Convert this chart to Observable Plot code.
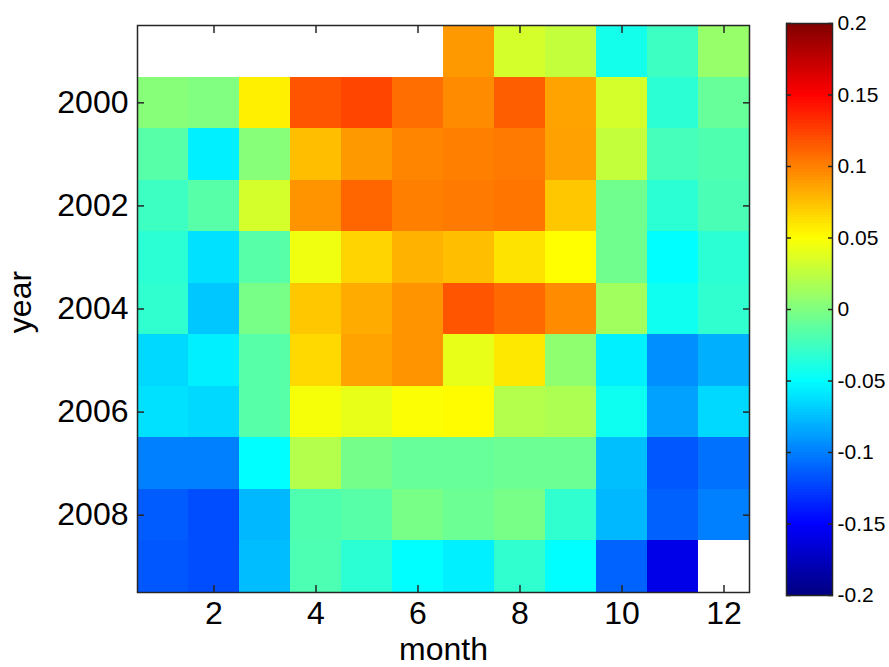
<!DOCTYPE html>
<html><head><meta charset="utf-8">
<script src="https://cdn.jsdelivr.net/npm/d3@7"></script>
<script src="https://cdn.jsdelivr.net/npm/@observablehq/plot@0.6"></script>
<style>
body{margin:0;background:#fff;}
#chart{position:relative;width:889px;height:667px;overflow:hidden;font-family:"Liberation Sans",Arial,sans-serif;}
#main{position:absolute;left:0;top:0;}
#cbar{position:absolute;left:760px;top:0;}
</style></head><body><div id="chart"><div id="main"></div><div id="cbar"></div></div>
<script>
const months = [1,2,3,4,5,6,7,8,9,10,11,12];
const years = [1999,2000,2001,2002,2003,2004,2005,2006,2007,2008,2009];
const v1999 = [null,null,null,null,null,null,0.09,0.033,0.027,-0.042,-0.026,0.009];
const v2000 = [0.003,0.0,0.056,0.117,0.123,0.107,0.095,0.113,0.086,0.033,-0.033,-0.01];
const v2001 = [-0.016,-0.056,0.003,0.075,0.09,0.098,0.1,0.102,0.087,0.027,-0.023,-0.019];
const v2002 = [-0.026,-0.016,0.033,0.092,0.11,0.1,0.102,0.104,0.072,-0.006,-0.033,-0.021];
const v2003 = [-0.033,-0.062,-0.016,0.044,0.067,0.08,0.075,0.061,0.05,-0.006,-0.05,-0.033];
const v2004 = [-0.031,-0.072,-0.003,0.072,0.083,0.092,0.117,0.109,0.095,0.013,-0.044,-0.031];
const v2005 = [-0.065,-0.056,-0.016,0.065,0.086,0.092,0.041,0.059,0.006,-0.056,-0.094,-0.081];
const v2006 = [-0.062,-0.065,-0.016,0.047,0.041,0.049,0.051,0.02,0.018,-0.045,-0.087,-0.065];
const v2007 = [-0.1,-0.1,-0.05,0.02,-0.004,-0.01,-0.01,-0.008,-0.008,-0.075,-0.116,-0.106];
const v2008 = [-0.114,-0.12,-0.078,-0.019,-0.016,-0.003,-0.008,-0.003,-0.031,-0.078,-0.112,-0.1];
const v2009 = [-0.116,-0.12,-0.076,-0.02,-0.033,-0.05,-0.056,-0.031,-0.05,-0.111,-0.159,null];
const monthTicks = [2,4,6,8,10,12];
const yearTicks = [2000,2002,2004,2006,2008];
const colorTicks = [-0.2,-0.15,-0.1,-0.05,0,0.05,0.1,0.15,0.2];
const jetDomain = [-0.2,-0.15,-0.05,0.05,0.15,0.2];
const jetColors = ["#000080","#0000ff","#00ffff","#ffff00","#ff0000","#800000"];

const rows = [v1999,v2000,v2001,v2002,v2003,v2004,v2005,v2006,v2007,v2008,v2009];
const data = [];
years.forEach((yr,i)=>rows[i].forEach((v,j)=>{ if(v!=null) data.push({year:yr, month:months[j], value:v}); }));

const colorScale = {type:"linear", domain:jetDomain, range:jetColors, interpolate:"rgb", clamp:true};
const font = '"Liberation Sans", Arial, sans-serif';
const frameColor = "#262626";

const main = Plot.plot({
  width: 760, height: 667,
  marginLeft: 137, marginRight: 11, marginTop: 25, marginBottom: 75,
  style: {fontFamily: font, fontSize: "32px", color: "#000", background: "transparent"},
  x: {domain: [0.5, 12.5], axis: null},
  y: {domain: [2009.5, 1998.5], axis: null},
  color: colorScale,
  marks: [
    Plot.rect(data, {x1: d=>d.month-0.5, x2: d=>d.month+0.5, y1: d=>d.year-0.5, y2: d=>d.year+0.5, fill: "value", shapeRendering: "crispEdges"}),
    Plot.frame({stroke: frameColor, strokeWidth: 1.5}),
    Plot.axisX(monthTicks, {anchor: "bottom", tickSize: 0, tickPadding: 9, fontSize: 32, tickFormat: d=>String(d), label: null}),
    Plot.axisX(monthTicks, {anchor: "bottom", tickSize: -7, tickFormat: ()=>"", label: null, stroke: frameColor, strokeWidth: 1.5}),
    Plot.axisX(monthTicks, {anchor: "top", tickSize: -7, tickFormat: ()=>"", label: null, stroke: frameColor, strokeWidth: 1.5}),
    Plot.axisY(yearTicks, {anchor: "left", tickSize: 0, tickPadding: 9, fontSize: 32, tickFormat: d=>String(d), label: null}),
    Plot.axisY(yearTicks, {anchor: "left", tickSize: -7, tickFormat: ()=>"", label: null, stroke: frameColor, strokeWidth: 1.5}),
    Plot.axisY(yearTicks, {anchor: "right", tickSize: -7, tickFormat: ()=>"", label: null, stroke: frameColor, strokeWidth: 1.5}),
    Plot.text(["month"], {frameAnchor: "bottom", dy: 57, lineAnchor: "middle", textAnchor: "middle", fontSize: 32, fill: "#000"}),
    Plot.text(["year"], {frameAnchor: "left", dx: -107, dy: -7, rotate: -90, lineAnchor: "bottom", textAnchor: "middle", fontSize: 32, fill: "#000"})
  ]
});
document.getElementById("main").appendChild(main);

const step = 0.4/200;
const barSteps = d3.range(200).map(i => -0.2 + i*step);
const cbar = Plot.plot({
  width: 129, height: 667,
  marginLeft: 26, marginRight: 57, marginTop: 23, marginBottom: 72,
  style: {fontFamily: font, fontSize: "21px", color: "#000", background: "transparent"},
  y: {domain: [-0.2, 0.2], axis: null},
  color: colorScale,
  marks: [
    Plot.rect(barSteps, {y1: d=>d, y2: d=>d+step, fill: d=>d+step/2, shapeRendering: "crispEdges"}),
    Plot.frame({stroke: frameColor, strokeWidth: 1.5}),
    Plot.axisY(colorTicks, {anchor: "right", tickSize: 0, tickPadding: 5, fontSize: 21, tickFormat: d=>String(d), label: null}),
    Plot.axisY(colorTicks, {anchor: "right", tickSize: -5, tickFormat: ()=>"", label: null, stroke: frameColor, strokeWidth: 1.5}),
    Plot.axisY(colorTicks, {anchor: "left", tickSize: -5, tickFormat: ()=>"", label: null, stroke: frameColor, strokeWidth: 1.5})
  ]
});
document.getElementById("cbar").appendChild(cbar);
</script></body></html>
